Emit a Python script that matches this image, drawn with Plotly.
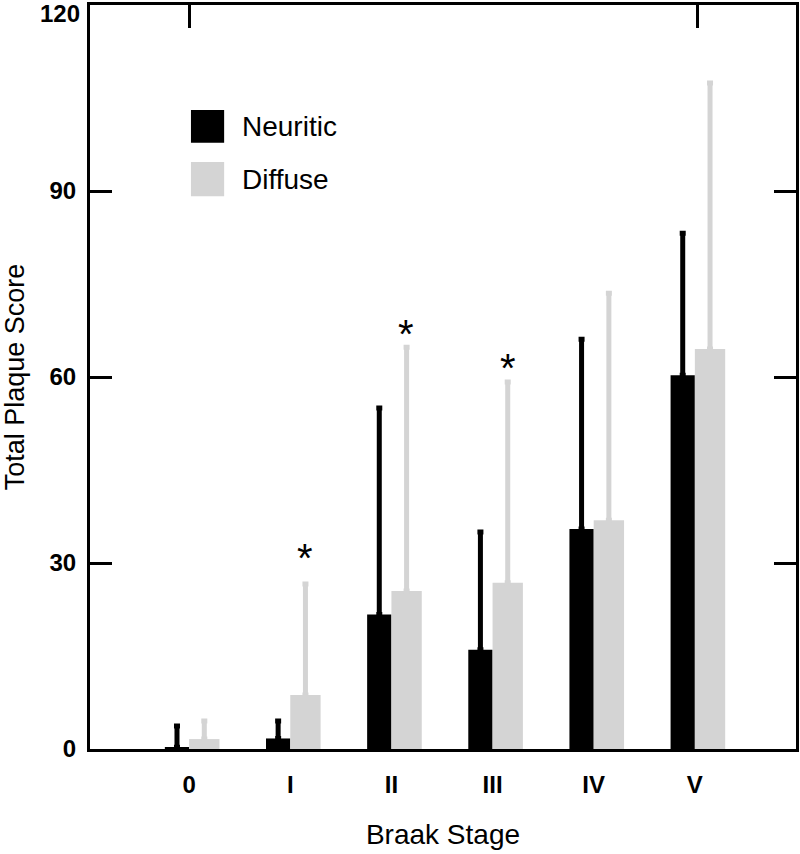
import plotly.graph_objects as go

# ---- data ----
stages = ["0", "I", "II", "III", "IV", "V"]
neuritic = [0.3, 1.7, 21.7, 16.0, 35.5, 60.3]
neuritic_sd = [3.4, 2.8, 33.3, 19.0, 30.6, 22.9]
diffuse = [1.6, 8.7, 25.5, 26.8, 36.9, 64.5]
diffuse_sd = [2.9, 17.9, 39.3, 32.4, 36.6, 42.9]
sig_stages = ["I", "II", "III"]
sig_y = [31.8, 67.9, 62.4]
y_ticks = [0, 30, 60, 90, 120]

BLACK = "#000000"
GRAY = "#d4d4d4"
FONT = "Liberation Sans, Arial, sans-serif"

fig = go.Figure()

fig.add_trace(go.Bar(
    x=stages, y=neuritic, name="Neuritic",
    marker=dict(color=BLACK, line=dict(width=0)),
    width=0.24, offset=-0.24,
    error_y=dict(type="data", symmetric=False, array=neuritic_sd,
                 arrayminus=[0] * len(neuritic_sd),
                 color=BLACK, thickness=5, width=3),
))
fig.add_trace(go.Bar(
    x=stages, y=diffuse, name="Diffuse",
    marker=dict(color=GRAY, line=dict(width=0)),
    width=0.30, offset=0.0,
    error_y=dict(type="data", symmetric=False, array=diffuse_sd,
                 arrayminus=[0] * len(diffuse_sd),
                 color=GRAY, thickness=5, width=3),
))

# invisible trace to anchor the top tick axis
fig.add_trace(go.Scatter(x=[0], y=[0], xaxis="x2", mode="markers",
                         marker=dict(opacity=0), showlegend=False,
                         hoverinfo="skip"))

# significance asterisks above the diffuse bars
for s, yv in zip(sig_stages, sig_y):
    fig.add_annotation(x=s, y=yv, xref="x", yref="y", text="*",
                       showarrow=False, xshift=15, yshift=-6,
                       font=dict(family=FONT, size=40, color="black"))

# top tick label (would otherwise be clipped at the top edge)
fig.add_annotation(x=0, y=y_ticks[-1], xref="paper", yref="y",
                   text=f"<b>{y_ticks[-1]}</b>", showarrow=False,
                   xanchor="right", yanchor="top", xshift=-8, yshift=7,
                   font=dict(family=FONT, size=24, color="black"))

# legend (drawn manually to get large swatches)
legend_items = [("Neuritic", BLACK, 0.859, 0.815), ("Diffuse", GRAY, 0.789, 0.743)]
for label, col, ytop, ybot in legend_items:
    fig.add_shape(type="rect", xref="paper", yref="paper",
                  x0=0.143, x1=0.190, y0=ybot, y1=ytop,
                  fillcolor=col, line=dict(width=0))
    fig.add_annotation(x=0.213, y=(ytop + ybot) / 2, xref="paper", yref="paper",
                       text=label, showarrow=False, xanchor="left", yanchor="middle",
                       font=dict(family=FONT, size=28, color="black"))

fig.update_layout(
    width=800, height=854,
    margin=dict(l=90, r=4, t=5, b=105, autoexpand=False),
    paper_bgcolor="white", plot_bgcolor="white",
    barmode="overlay",
    showlegend=False,
    font=dict(family=FONT, color="black"),
    xaxis=dict(
        type="category", range=[-0.98, 6.0],
        showline=True, linecolor="black", linewidth=3, mirror=True,
        ticks="", showgrid=False, zeroline=False, automargin=False,
        tickfont=dict(family=FONT, size=24, color="black", weight="bold"),
        ticklabelstandoff=12,
        title=dict(text="Braak Stage", font=dict(family=FONT, size=28), standoff=28),
    ),
    xaxis2=dict(
        overlaying="x", side="top", range=[-0.98, 6.0],
        tickvals=[0, 5.03], ticks="inside", ticklen=23, tickwidth=3,
        tickcolor="black", showticklabels=False, showgrid=False,
        zeroline=False, showline=False, automargin=False,
    ),
    yaxis=dict(
        range=[0, 120], tickvals=y_ticks,
        ticktext=[str(v) for v in y_ticks[:-1]] + [""],
        showline=True, linecolor="black", linewidth=3, mirror="ticks",
        ticks="inside", ticklen=22, tickwidth=3, tickcolor="black",
        showgrid=False, zeroline=False, automargin=False,
        tickfont=dict(family=FONT, size=24, color="black", weight="bold"),
        ticklabelstandoff=6,
        title=dict(text="Total Plaque Score", font=dict(family=FONT, size=27), standoff=23),
    ),
)

fig.write_html(
    "out.html",
    config={"responsive": False, "displayModeBar": False},
    post_script="document.body.style.margin='0';document.body.style.overflow='hidden';",
)
